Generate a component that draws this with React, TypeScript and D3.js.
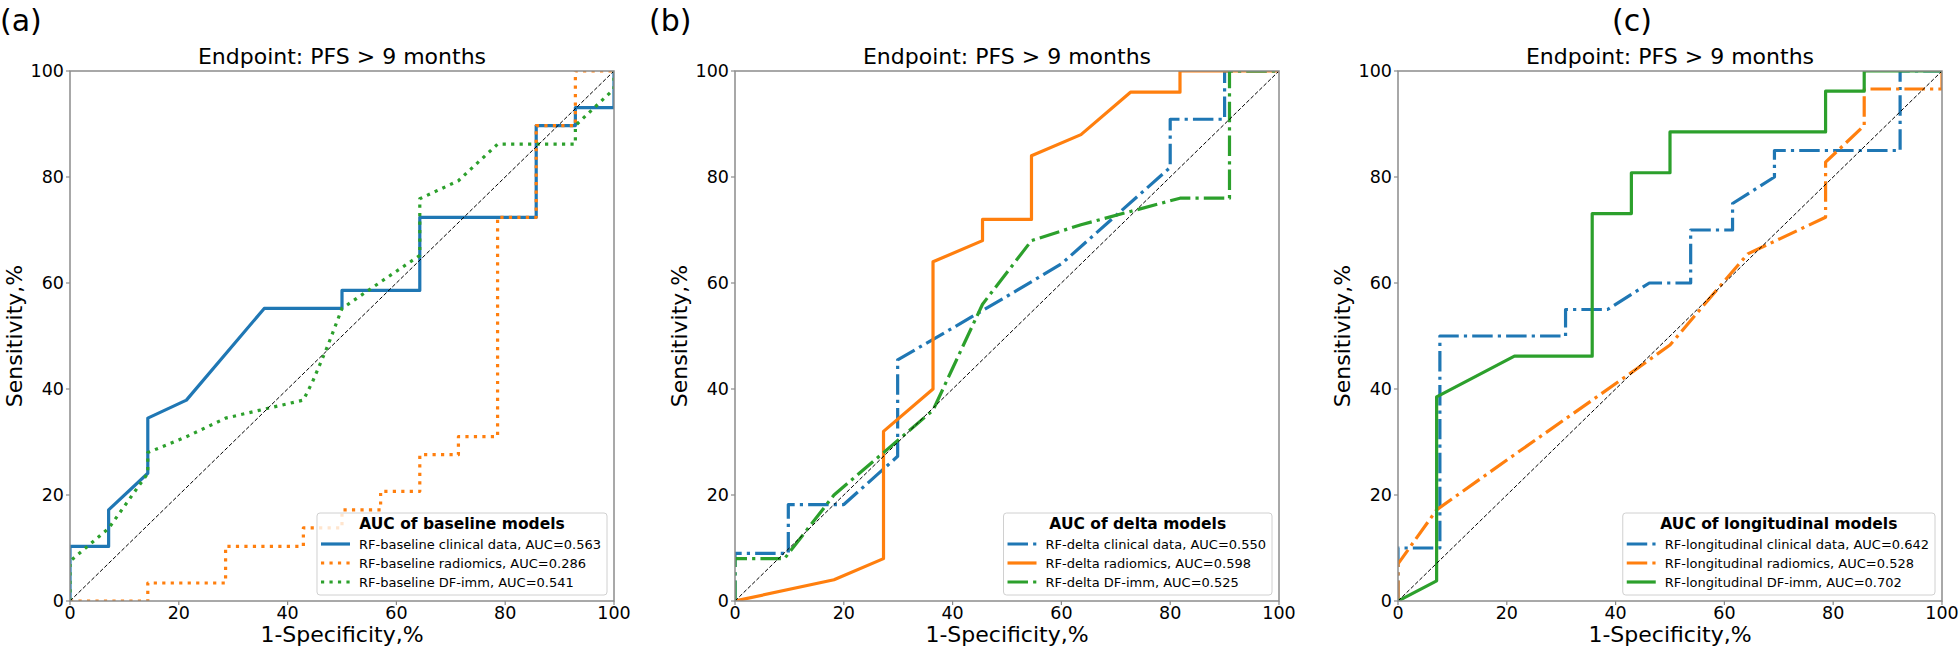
import React, { useEffect, useRef } from 'react';
import * as d3 from 'd3';

type Pt = [number, number];

// ---------- data ----------
const xTicks = [0, 20, 40, 60, 80, 100];
const yTicks = [0, 20, 40, 60, 80, 100];
const panelLabels = ['(a)', '(b)', '(c)'];
const panelTitle = 'Endpoint: PFS > 9 months';
const xLabel = '1-Specificity,%';
const yLabel = 'Sensitivity,%';
const legendTitles = ['AUC of baseline models', 'AUC of delta models', 'AUC of longitudinal models'];

const aClinical: Pt[] = [[0,0],[0,10.3],[7.1,10.3],[7.1,17.2],[14.3,24.1],[14.3,34.5],[21.4,37.9],[35.7,55.2],[50,55.2],[50,58.6],[64.3,58.6],[64.3,72.4],[85.7,72.4],[85.7,89.7],[92.9,89.7],[92.9,93.1],[100,93.1],[100,100]];
const aRadiomics: Pt[] = [[0,0],[14.3,0],[14.3,3.4],[28.6,3.4],[28.6,10.3],[42.9,10.3],[42.9,13.8],[50,13.8],[50,17.2],[57.1,17.2],[57.1,20.7],[64.3,20.7],[64.3,27.6],[71.4,27.6],[71.4,31.0],[78.6,31.0],[78.6,72.4],[85.7,72.4],[85.7,89.7],[92.9,89.7],[92.9,100],[100,100]];
const aDfImm: Pt[] = [[0,0],[0,7.5],[7.1,13.7],[14.3,24.1],[14.3,28.0],[21.4,31.0],[28.6,34.5],[35.7,36.2],[42.9,37.9],[44.6,41.4],[47.4,48.2],[50,55.2],[57.1,60.2],[64.3,65.2],[64.3,75.9],[71.4,79.3],[78.6,86.2],[92.9,86.2],[92.9,89.7],[100,96.6],[100,100]];

const bClinical: Pt[] = [[0,0],[0,9.0],[9.8,9.0],[9.8,18.2],[20,18.2],[29.9,27.3],[29.9,45.5],[40,51.5],[50,57.5],[60,63.6],[70,72.7],[80,81.8],[80,90.9],[90,90.9],[90,100],[100,100]];
const bRadiomics: Pt[] = [[0,0],[18.2,4],[27.3,8],[27.3,32],[36.4,40],[36.4,64],[45.5,68],[45.5,72],[54.5,72],[54.5,84],[63.6,88],[72.7,96],[81.8,96],[81.8,100],[100,100]];
const bDfImm: Pt[] = [[0,0],[0,8],[9.1,8],[18.2,20],[27.3,28],[36.4,36],[45.5,56],[54.5,68],[63.6,71],[72.7,73.5],[81.8,76],[90.9,76],[90.9,100],[100,100]];

const cClinical: Pt[] = [[0,0],[0,10],[7.7,10],[7.7,50],[30.8,50],[30.8,55],[38.5,55],[46.2,60],[53.8,60],[53.8,70],[61.5,70],[61.5,75],[69.2,80],[69.2,85],[92.3,85],[92.3,100],[100,100]];
const cRadiomics: Pt[] = [[0,0],[0,7],[7.1,17.2],[21.4,27.6],[35.7,37.9],[42.9,43.1],[50,48.3],[57.1,56.9],[64.3,65.5],[78.6,72.4],[78.6,82.8],[85.7,89.7],[85.7,96.6],[100,96.6],[100,100]];
const cDfImm: Pt[] = [[0,0],[7.1,3.8],[7.1,38.5],[21.4,46.2],[35.7,46.2],[35.7,73.1],[42.9,73.1],[42.9,80.8],[50,80.8],[50,88.5],[78.6,88.5],[78.6,96.2],[85.7,96.2],[85.7,100],[100,100]];

const aLabels = ['RF-baseline clinical data, AUC=0.563', 'RF-baseline radiomics, AUC=0.286', 'RF-baseline DF-imm, AUC=0.541'];
const bLabels = ['RF-delta clinical data, AUC=0.550', 'RF-delta radiomics, AUC=0.598', 'RF-delta DF-imm, AUC=0.525'];
const cLabels = ['RF-longitudinal clinical data, AUC=0.642', 'RF-longitudinal radiomics, AUC=0.528', 'RF-longitudinal DF-imm, AUC=0.702'];

const aStyles = ['solid', 'dotted', 'dotted'];
const bStyles = ['dashdot', 'solid', 'dashdot'];
const cStyles = ['dashdot', 'dashdot', 'solid'];

const seriesColors = ['#1f77b4', '#ff7f0e', '#2ca02c'];

const panelData = [
  { series: [aClinical, aRadiomics, aDfImm], labels: aLabels, styles: aStyles },
  { series: [bClinical, bRadiomics, bDfImm], labels: bLabels, styles: bStyles },
  { series: [cClinical, cRadiomics, cDfImm], labels: cLabels, styles: cStyles },
];

// ---------- layout ----------
const W = 1960, H = 650;
const panelLefts = [70, 735, 1398];
const panelLabelX = [0, 649, 1612];
const AX_W = 544, AX_TOP = 71, AX_BOTTOM = 601;
const FONT = '"DejaVu Sans", Verdana, sans-serif';
const LW = 3.2;

function dash(style: string): string | null {
  if (style === 'dotted') return `${LW},${LW * 1.65}`;
  if (style === 'dashdot') return `${LW * 6.4},${LW * 1.6},${LW},${LW * 1.6}`;
  return null;
}

export default function App() {
  const ref = useRef<SVGSVGElement>(null);

  useEffect(() => {
    const svg = d3.select(ref.current);
    svg.selectAll('*').remove();
    svg.append('rect').attr('width', W).attr('height', H).attr('fill', '#fff');

    panelData.forEach((p, i) => {
      const left = panelLefts[i];
      const right = left + AX_W;
      const x = d3.scaleLinear().domain([0, 100]).range([left, right]);
      const y = d3.scaleLinear().domain([0, 100]).range([AX_BOTTOM, AX_TOP]);
      const g = svg.append('g');

      const clipId = `clip-${i}`;
      svg.append('defs').append('clipPath').attr('id', clipId)
        .append('rect').attr('x', left).attr('y', AX_TOP).attr('width', AX_W).attr('height', AX_BOTTOM - AX_TOP);

      // panel label
      g.append('text').attr('x', panelLabelX[i]).attr('y', 31)
        .attr('font-family', FONT).attr('font-size', 30).attr('fill', '#000').text(panelLabels[i]);

      // title
      g.append('text').attr('x', (left + right) / 2).attr('y', 64).attr('text-anchor', 'middle')
        .attr('font-family', FONT).attr('font-size', 22).attr('fill', '#000').text(panelTitle);

      // lines
      const line = d3.line<Pt>().x(d => x(d[0])).y(d => y(d[1]));
      const lg = g.append('g').attr('clip-path', `url(#${clipId})`);
      p.series.forEach((s, k) => {
        const da = dash(p.styles[k]);
        const path = lg.append('path').attr('d', line(s) as string)
          .attr('fill', 'none').attr('stroke', seriesColors[k]).attr('stroke-width', LW)
          .attr('stroke-linejoin', 'round').attr('stroke-linecap', 'butt');
        if (da) path.attr('stroke-dasharray', da);
      });
      // chance diagonal
      lg.append('path').attr('d', line([[0, 0], [100, 100]]) as string)
        .attr('fill', 'none').attr('stroke', '#000').attr('stroke-width', 1)
        .attr('stroke-dasharray', '4,2');

      // spines
      g.append('rect').attr('x', left).attr('y', AX_TOP).attr('width', AX_W).attr('height', AX_BOTTOM - AX_TOP)
        .attr('fill', 'none').attr('stroke', '#8c8c8c').attr('stroke-width', 1.5);

      // x ticks
      xTicks.forEach(t => {
        g.append('line').attr('x1', x(t)).attr('x2', x(t)).attr('y1', AX_BOTTOM).attr('y2', AX_BOTTOM + 4)
          .attr('stroke', '#8c8c8c').attr('stroke-width', 1.2);
        g.append('text').attr('x', x(t)).attr('y', 619).attr('text-anchor', 'middle')
          .attr('font-family', FONT).attr('font-size', 17.5).attr('fill', '#000').text(String(t));
      });
      // y ticks
      yTicks.forEach(t => {
        g.append('line').attr('x1', left - 4).attr('x2', left).attr('y1', y(t)).attr('y2', y(t))
          .attr('stroke', '#8c8c8c').attr('stroke-width', 1.2);
        g.append('text').attr('x', left - 6).attr('y', y(t) + 6.3).attr('text-anchor', 'end')
          .attr('font-family', FONT).attr('font-size', 17.5).attr('fill', '#000').text(String(t));
      });

      // axis labels
      g.append('text').attr('x', (left + right) / 2).attr('y', 642).attr('text-anchor', 'middle')
        .attr('font-family', FONT).attr('font-size', 22).attr('fill', '#000').text(xLabel);
      g.append('text').attr('transform', `translate(${left - 48},${(AX_TOP + AX_BOTTOM) / 2}) rotate(-90)`)
        .attr('text-anchor', 'middle')
        .attr('font-family', FONT).attr('font-size', 22).attr('fill', '#000').text(yLabel);

      // legend
      const leg = g.append('g');
      const box = leg.append('rect');
      const top = AX_BOTTOM - 6 - 82;
      const entries = p.labels.map((lab, k) =>
        leg.append('text').attr('y', top + 31 + k * 19 + 4.7)
          .attr('font-family', FONT).attr('font-size', 13).attr('fill', '#000').text(lab));
      const title = leg.append('text').attr('y', top + 15.6).attr('text-anchor', 'middle')
        .attr('font-family', FONT).attr('font-size', 15.5).attr('font-weight', 'bold').attr('fill', '#000')
        .text(legendTitles[i]);
      const maxW = d3.max(entries.map(e => (e.node() as SVGTextElement).getComputedTextLength())) || 0;
      const titleW = (title.node() as SVGTextElement).getComputedTextLength();
      const bw = Math.max(48 + maxW, titleW + 16);
      const bx = right - 7 - bw;
      box.attr('x', bx).attr('y', top).attr('width', bw).attr('height', 82).attr('rx', 3)
        .attr('fill', 'rgba(255,255,255,0.8)').attr('stroke', '#d0d0d0').attr('stroke-width', 1);
      title.attr('x', bx + bw / 2);
      entries.forEach((e, k) => {
        e.attr('x', bx + 42);
        const cy = top + 31 + k * 19;
        const hl = leg.append('line').attr('x1', bx + 4).attr('x2', bx + 33).attr('y1', cy).attr('y2', cy)
          .attr('stroke', seriesColors[k]).attr('stroke-width', LW);
        const da = dash(p.styles[k]);
        if (da) hl.attr('stroke-dasharray', da);
      });
    });
  }, []);

  return (
    <svg ref={ref} width={W} height={H} style={{ position: 'absolute', left: 0, top: 0, display: 'block' }} />
  );
}
